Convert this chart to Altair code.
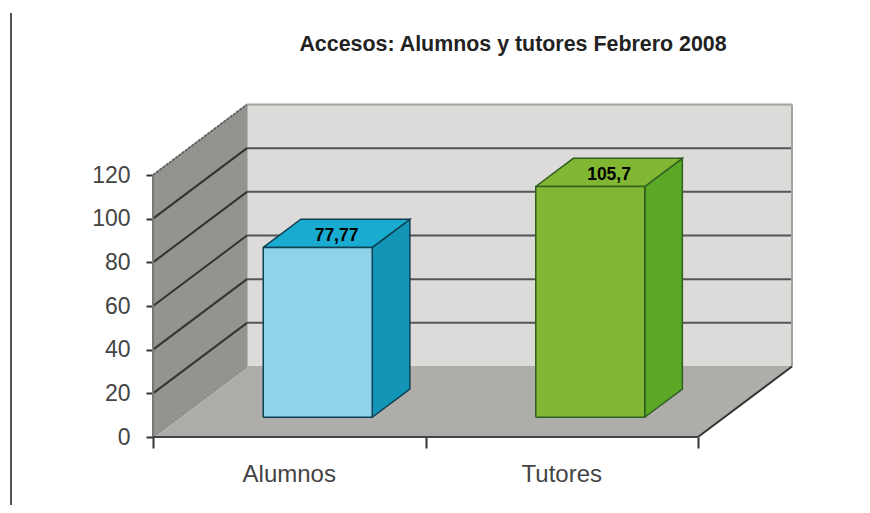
import altair as alt
import pandas as pd

# ---- chart values
categories = ["Alumnos", "Tutores"]
values = [77.77, 105.7]
value_labels = ["77,77", "105,7"]
y_ticks = [0, 20, 40, 60, 80, 100, 120]
x_ticks = [0, 1, 2]
title = "Accesos: Alumnos y tutores Febrero 2008"

# ---- colours per series: front, top, side, edge
front_colors = ["#8fd3ea", "#82b733"]
top_colors = ["#1aacd0", "#82b733"]
side_colors = ["#1295b6", "#5aa826"]
edge_colors = ["#0f3f52", "#2f5f22"]

# ---- layout of the oblique projection (1 x unit = one category)
PX_X = 272.5
PX_Y = 262 / 120
DEPTH_PX_X = 94
DEPTH_PX_Y = 70.5
PLOT_W = 640
PLOT_H = 333
BAR_LEFT, BAR_RIGHT = 0.308, 0.708
BAR_D0, BAR_D1 = 0.28, 0.68
N = len(categories)


def pr(x, v, d):
    """Project category position x, value v, depth d (0..1) to scale units."""
    return {"x": x + d * DEPTH_PX_X / PX_X, "y": v + d * DEPTH_PX_Y / PX_Y}


X = alt.Scale(domain=[0, PLOT_W / PX_X], nice=False, zero=False)
Y = alt.Scale(domain=[0, PLOT_H / PX_Y], nice=False, zero=False)
x_axis = alt.Axis(values=x_ticks, labels=False, title=None, domain=False, grid=False, ticks=True,
                  tickSize=11, tickColor="#333333", tickWidth=2)
y_axis = alt.Axis(values=y_ticks, title=None, domain=False, grid=False, ticks=True, tickSize=7,
                  tickColor="#333333", tickWidth=2, labelFontSize=23, labelFont="Liberation Sans",
                  labelColor="#444444", labelPadding=16)
xe = alt.X("x:Q", scale=X, axis=x_axis)
ye = alt.Y("y:Q", scale=Y, axis=y_axis)


def poly(points, fill, stroke=None, width=1):
    rows = [dict(i=i, **p) for i, p in enumerate(points + points[:1])]
    kw = dict(fill=fill, strokeWidth=width, clip=False)
    kw["stroke"] = stroke if stroke else fill
    return alt.Chart(pd.DataFrame(rows)).mark_line(**kw).encode(x=xe, y=ye, order="i:Q")


def seg(a, b, color, width=2, dash=None):
    rows = [dict(i=0, **a), dict(i=1, **b)]
    kw = dict(color=color, strokeWidth=width, clip=False)
    if dash:
        kw["strokeDash"] = dash
    return alt.Chart(pd.DataFrame(rows)).mark_line(**kw).encode(x=xe, y=ye, order="i:Q")


layers = []

# walls and floor
layers.append(poly([pr(0, 0, 1), pr(N, 0, 1), pr(N, 120, 1), pr(0, 120, 1)], "#dcdbda"))
layers.append(poly([pr(0, 0, 0), pr(0, 0, 1), pr(0, 120, 1), pr(0, 120, 0)], "#94938f"))
layers.append(poly([pr(0, 0, 0), pr(N, 0, 0), pr(N, 0, 1), pr(0, 0, 1)], "#aeada9"))

# grid lines
for v in y_ticks[1:-1]:
    layers.append(seg(pr(0, v, 0), pr(0, v, 1), "#333333", 2))
    layers.append(seg(pr(0, v, 1), pr(N, v, 1), "#555555", 2))
layers.append(seg(pr(0, 120, 0), pr(0, 120, 1), "#666666", 2, [3, 1]))
layers.append(seg(pr(0, 120, 1), pr(N, 120, 1), "#a3a29f", 2))
layers.append(seg(pr(N, 0, 1), pr(N, 120, 1), "#a3a29f", 2))
layers.append(seg(pr(0, 0, 0), pr(0, 0, 1), "#777777", 1, [3, 1]))
layers.append(seg(pr(0, 0, 0), pr(0, 120, 0), "#777773", 2))
layers.append(seg(pr(0, 0, 0), pr(N, 0, 0), "#444444", 2))
layers.append(seg(pr(N, 0, 0), pr(N, 0, 1), "#333333", 2))

# 3D bars
for i, v in enumerate(values):
    l, r = i + BAR_LEFT, i + BAR_RIGHT
    d0, d1 = BAR_D0, BAR_D1
    e = edge_colors[i]
    layers.append(poly([pr(r, 0, d0), pr(r, 0, d1), pr(r, v, d1), pr(r, v, d0)], side_colors[i], e, 1.5))
    layers.append(poly([pr(l, v, d0), pr(r, v, d0), pr(r, v, d1), pr(l, v, d1)], top_colors[i], e, 1.5))
    layers.append(poly([pr(l, 0, d0), pr(r, 0, d0), pr(r, v, d0), pr(l, v, d0)], front_colors[i], e, 1.5))

# value labels on the bar tops
lab_rows = [
    dict(label=value_labels[i], **pr(i + (BAR_LEFT + BAR_RIGHT) / 2, v, (BAR_D0 + BAR_D1) / 2))
    for i, v in enumerate(values)
]
layers.append(
    alt.Chart(pd.DataFrame(lab_rows))
    .mark_text(font="Liberation Sans", fontSize=17.5, fontWeight="bold", color="#000000", dy=3, clip=False)
    .encode(x=xe, y=ye, text="label:N")
)

# category labels
cat_rows = [dict(x=i + 0.5, label=c) for i, c in enumerate(categories)]
layers.append(
    alt.Chart(pd.DataFrame(cat_rows))
    .mark_text(font="Liberation Sans", fontSize=24, color="#444444", clip=False)
    .encode(x=xe, y=alt.value(PLOT_H + 38), text="label:N")
)

# frame line at the far left of the page
layers.append(
    alt.Chart(pd.DataFrame({"k": [0]}))
    .mark_rule(color="#555555", strokeWidth=2, clip=False)
    .encode(x=alt.value(-142), y=alt.value(-91), y2=alt.value(PLOT_H + 68))
)

chart = (
    alt.layer(*layers)
    .properties(
        width=PLOT_W,
        height=PLOT_H,
        padding={"left": 145, "top": 96, "right": 69, "bottom": 68},
        autosize=alt.AutoSizeParams(type="none"),
        title=alt.TitleParams(title, anchor="middle", dx=40, offset=-43, font="Liberation Sans",
                              fontSize=21.4, fontWeight="bold", color="#222222"),
        background="#ffffff",
    )
    .configure_view(stroke=None)
)

chart.save("out.html", embed_options={"renderer": "svg", "actions": False})
